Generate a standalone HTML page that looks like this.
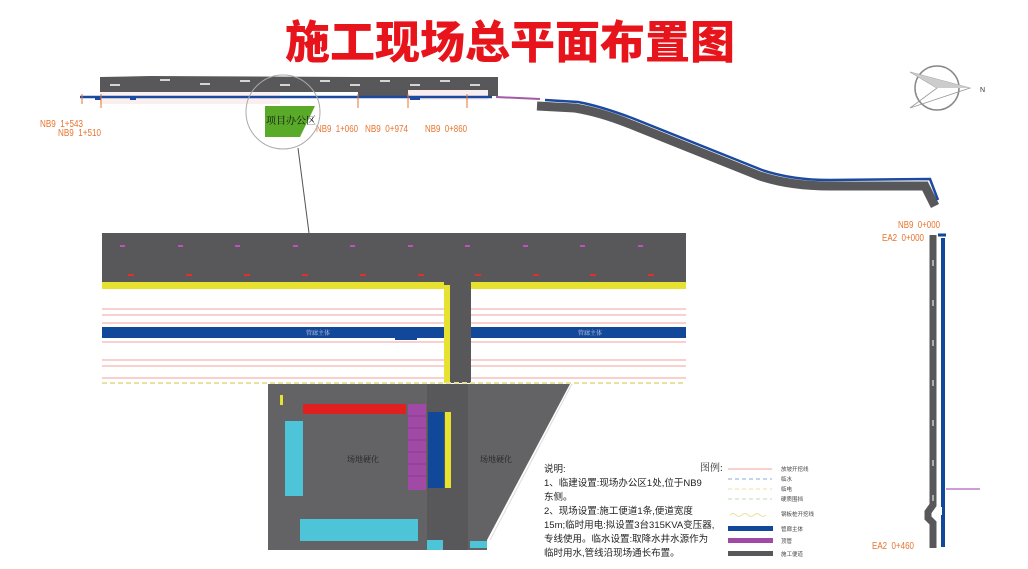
<!DOCTYPE html>
<html><head><meta charset="utf-8"><style>
html,body{margin:0;padding:0;background:#fff;}
svg{display:block;}
text{font-family:"Liberation Sans","Noto Sans CJK SC",sans-serif;}
.cn{font-family:"Liberation Serif","Noto Serif CJK SC",serif;}
.or{fill:#e8742f;font-size:10px;}
</style></head><body>
<svg width="1028" height="569" viewBox="0 0 1028 569" xmlns="http://www.w3.org/2000/svg">
<rect width="1028" height="569" fill="#fff"/>
<text x="510" y="58" text-anchor="middle" font-size="45" font-weight="900" fill="#e8141c" font-family="'Noto Sans CJK SC',sans-serif">施工现场总平面布置图</text>

<!-- top road -->
<path d="M100 77 L150 76 L358 77 L498 77 L498 96 L358 96 L358 92 L100 92 Z" fill="#58585a"/>
<rect x="100" y="92" width="180" height="12" fill="#fbeeee"/>
<rect x="408" y="90" width="80" height="10" fill="#fbeeee"/>
<g stroke="#fff" stroke-width="1.5">
<line x1="110" y1="85" x2="120" y2="85"/><line x1="160" y1="80" x2="170" y2="80"/><line x1="200" y1="84" x2="210" y2="84"/><line x1="240" y1="81" x2="250" y2="81"/><line x1="280" y1="85" x2="290" y2="85"/><line x1="320" y1="81" x2="330" y2="81"/><line x1="350" y1="85" x2="360" y2="85"/><line x1="380" y1="81" x2="390" y2="81"/><line x1="410" y1="85" x2="420" y2="85"/><line x1="440" y1="81" x2="450" y2="81"/><line x1="470" y1="85" x2="480" y2="85"/>
</g>
<line x1="80" y1="97" x2="492" y2="97" stroke="#1c4aa0" stroke-width="2.5"/>
<rect x="95" y="96" width="6" height="4" fill="#1c4aa0"/><rect x="130" y="96" width="6" height="4" fill="#1c4aa0"/><rect x="410" y="96" width="10" height="4" fill="#1c4aa0"/>
<line x1="496" y1="97" x2="540" y2="99" stroke="#a45aa5" stroke-width="2"/>
<g stroke="#e8742f" stroke-width="1"><line x1="82" y1="94" x2="82" y2="104"/><line x1="101" y1="94" x2="101" y2="108"/><line x1="358" y1="94" x2="358" y2="108"/><line x1="408" y1="94" x2="408" y2="108"/><line x1="467" y1="94" x2="467" y2="108"/></g>

<!-- curved road -->
<path d="M537 106 L575 108 Q600 112 630 124 L760 176 Q790 186 830 186 L925 186 L935 206" fill="none" stroke="#58585a" stroke-width="9"/>
<path d="M545 100 L578 102 Q600 106 632 118 L762 170 Q792 180 830 180 L930 179 L938 200" fill="none" stroke="#1c4aa0" stroke-width="2.5"/>

<!-- compass -->
<circle cx="937" cy="88" r="22" fill="none" stroke="#888" stroke-width="1.5"/>
<path d="M910 72 L970 88 L910 108 L937 88 Z" fill="none" stroke="#999" stroke-width="0.8"/>
<path d="M910 72 L970 88 L937 88 Z" fill="#ccc"/>
<text x="980" y="92" font-size="7" fill="#333">N</text>

<!-- labels -->
<text class="or" x="40" y="127" textLength="43" lengthAdjust="spacingAndGlyphs">NB9&#160;&#160;1+543</text>
<text class="or" x="58" y="136" textLength="43" lengthAdjust="spacingAndGlyphs">NB9&#160;&#160;1+510</text>
<text class="or" x="316" y="132" textLength="42" lengthAdjust="spacingAndGlyphs">NB9&#160;&#160;1+060</text>
<text class="or" x="365" y="132" textLength="43" lengthAdjust="spacingAndGlyphs">NB9&#160;&#160;0+974</text>
<text class="or" x="425" y="132" textLength="42" lengthAdjust="spacingAndGlyphs">NB9&#160;&#160;0+860</text>
<text class="or" x="898" y="228" textLength="42" lengthAdjust="spacingAndGlyphs">NB9&#160;&#160;0+000</text>
<text class="or" x="882" y="241" textLength="42" lengthAdjust="spacingAndGlyphs">EA2&#160;&#160;0+000</text>
<text class="or" x="872" y="549" textLength="42" lengthAdjust="spacingAndGlyphs">EA2&#160;&#160;0+460</text>

<!-- office -->
<circle cx="283" cy="112" r="37" fill="none" stroke="#aaa" stroke-width="1"/>
<polygon points="265,106 315,106 300,137 265,137" fill="#5aaa2a"/>
<text class="cn" x="266" y="124" font-size="10" fill="#111">项目办公区</text>
<line x1="298" y1="148" x2="309" y2="233" stroke="#555" stroke-width="1"/>

<!-- detail panel -->
<rect x="102" y="233" width="584" height="150" fill="#fff"/>
<rect x="102" y="233" width="584" height="49" fill="#58585a"/>
<rect x="102" y="282" width="584" height="7" fill="#e7e22f"/>
<g stroke="#f0a0a0" stroke-width="1"><line x1="102" y1="309" x2="444" y2="309"/><line x1="102" y1="315" x2="444" y2="315"/><line x1="102" y1="323" x2="444" y2="323"/><line x1="102" y1="342" x2="444" y2="342"/><line x1="102" y1="360" x2="444" y2="360"/><line x1="102" y1="366" x2="444" y2="366"/><line x1="102" y1="378" x2="444" y2="378"/>
<line x1="471" y1="309" x2="686" y2="309"/><line x1="471" y1="315" x2="686" y2="315"/><line x1="471" y1="323" x2="686" y2="323"/><line x1="471" y1="342" x2="686" y2="342"/><line x1="471" y1="360" x2="686" y2="360"/><line x1="471" y1="366" x2="686" y2="366"/><line x1="471" y1="378" x2="686" y2="378"/></g>
<rect x="102" y="327" width="584" height="11" fill="#12489a"/>
<rect x="395" y="337" width="22" height="3" fill="#12489a"/>
<rect x="444" y="282" width="27" height="101" fill="#58585a"/>
<rect x="444" y="285" width="6" height="98" fill="#e7e22f"/>
<g fill="#c050c0"><rect x="120" y="245" width="5" height="2"/><rect x="178" y="245" width="5" height="2"/><rect x="235" y="245" width="5" height="2"/><rect x="293" y="245" width="5" height="2"/><rect x="350" y="245" width="5" height="2"/><rect x="408" y="245" width="5" height="2"/><rect x="465" y="245" width="5" height="2"/><rect x="523" y="245" width="5" height="2"/><rect x="580" y="245" width="5" height="2"/><rect x="638" y="245" width="5" height="2"/></g>
<g fill="#e0302a"><rect x="128" y="274" width="6" height="2"/><rect x="186" y="274" width="6" height="2"/><rect x="244" y="274" width="6" height="2"/><rect x="302" y="274" width="6" height="2"/><rect x="360" y="274" width="6" height="2"/><rect x="418" y="274" width="6" height="2"/><rect x="475" y="274" width="6" height="2"/><rect x="533" y="274" width="6" height="2"/><rect x="590" y="274" width="6" height="2"/><rect x="648" y="274" width="6" height="2"/></g>
<text class="cn" x="306" y="335" font-size="6" fill="#ccd">管廊主体</text>
<text class="cn" x="578" y="335" font-size="6" fill="#ccd">管廊主体</text>
<line x1="102" y1="383" x2="686" y2="383" stroke="#e7e2a0" stroke-width="2" stroke-dasharray="5,3"/>

<!-- lower site -->
<polygon points="268,384 570,384 487,540 487,550 268,550" fill="#636365"/>
<line x1="572" y1="384" x2="490" y2="540" stroke="#ddd" stroke-width="1"/>
<rect x="427" y="384" width="41" height="166" fill="#58585a"/>
<rect x="303" y="404" width="103" height="10" fill="#e0201f"/>
<rect x="408" y="404" width="18" height="86" fill="#a04aa5"/>
<g stroke="#7a2a80" stroke-width="0.5"><line x1="408" y1="416" x2="426" y2="416"/><line x1="408" y1="428" x2="426" y2="428"/><line x1="408" y1="440" x2="426" y2="440"/><line x1="408" y1="452" x2="426" y2="452"/><line x1="408" y1="464" x2="426" y2="464"/><line x1="408" y1="476" x2="426" y2="476"/></g>
<rect x="428" y="412" width="16" height="76" fill="#12489a"/>
<rect x="445" y="412" width="6" height="76" fill="#e7e22f"/>
<rect x="285" y="421" width="18" height="75" fill="#4ec4d8"/>
<rect x="300" y="519" width="118" height="22" fill="#4ec4d8"/>
<rect x="427" y="540" width="16" height="10" fill="#4ec4d8"/>
<rect x="470" y="541" width="17" height="7" fill="#4ec4d8"/>
<rect x="280" y="395" width="3" height="10" fill="#e7e22f"/>
<text class="cn" x="347" y="462" font-size="8" fill="#222">场地硬化</text>
<text class="cn" x="480" y="462" font-size="8" fill="#222">场地硬化</text>

<!-- notes -->
<g class="cn" font-size="9.5" fill="#222">
<text x="544" y="472">说明:</text>
<text x="544" y="486">1、临建设置:现场办公区1处,位于NB9</text>
<text x="544" y="500">东侧。</text>
<text x="544" y="514">2、现场设置:施工便道1条,便道宽度</text>
<text x="544" y="528">15m;临时用电:拟设置3台315KVA变压器,</text>
<text x="544" y="542">专线使用。临水设置:取降水井水源作为</text>
<text x="544" y="556">临时用水,管线沿现场通长布置。</text>
</g>

<!-- legend -->
<text class="cn" x="700" y="471" font-size="10" fill="#333">图例:</text>
<line x1="728" y1="469" x2="772" y2="469" stroke="#f0a0a0" stroke-width="1"/>
<line x1="728" y1="479" x2="772" y2="479" stroke="#8ad" stroke-dasharray="4,3"/>
<line x1="728" y1="489" x2="772" y2="489" stroke="#e8e2a0" stroke-dasharray="4,3"/>
<line x1="728" y1="499" x2="772" y2="499" stroke="#b8e0b0" stroke-dasharray="4,3"/>
<path d="M730 515 q3 -3 6 0 t6 0 t6 0 t6 0 t6 0 t6 0" fill="none" stroke="#e8e2a0"/>
<rect x="728" y="526" width="45" height="5" fill="#12489a"/>
<rect x="728" y="538" width="45" height="5" fill="#a04aa5"/>
<rect x="728" y="551" width="45" height="5" fill="#58585a"/>
<g class="cn" font-size="5.5" fill="#444">
<text x="781" y="471">放坡开挖线</text><text x="781" y="481">临水</text><text x="781" y="491">临电</text><text x="781" y="501">硬质围挡</text><text x="781" y="516">钢板桩开挖线</text><text x="781" y="531">管廊主体</text><text x="781" y="543">顶管</text><text x="781" y="556">施工便道</text>
</g>

<!-- right vertical road -->
<path d="M933 235 L933 505 L928 512 L928 518 L933 523 L933 548" fill="none" stroke="#58585a" stroke-width="7"/>
<path d="M943 238 L943 547" stroke="#12489a" stroke-width="4"/>
<line x1="938" y1="235" x2="946" y2="235" stroke="#12489a" stroke-width="3"/>
<rect x="936" y="507" width="6" height="8" fill="#fff"/>
<line x1="946" y1="489" x2="980" y2="489" stroke="#c07ac8" stroke-width="1.5"/>
<g stroke="#fff" stroke-width="1"><line x1="933" y1="260" x2="933" y2="266"/><line x1="933" y1="300" x2="933" y2="306"/><line x1="933" y1="340" x2="933" y2="346"/><line x1="933" y1="380" x2="933" y2="386"/><line x1="933" y1="420" x2="933" y2="426"/><line x1="933" y1="460" x2="933" y2="466"/><line x1="933" y1="495" x2="933" y2="501"/></g>
</svg>
</body></html>
